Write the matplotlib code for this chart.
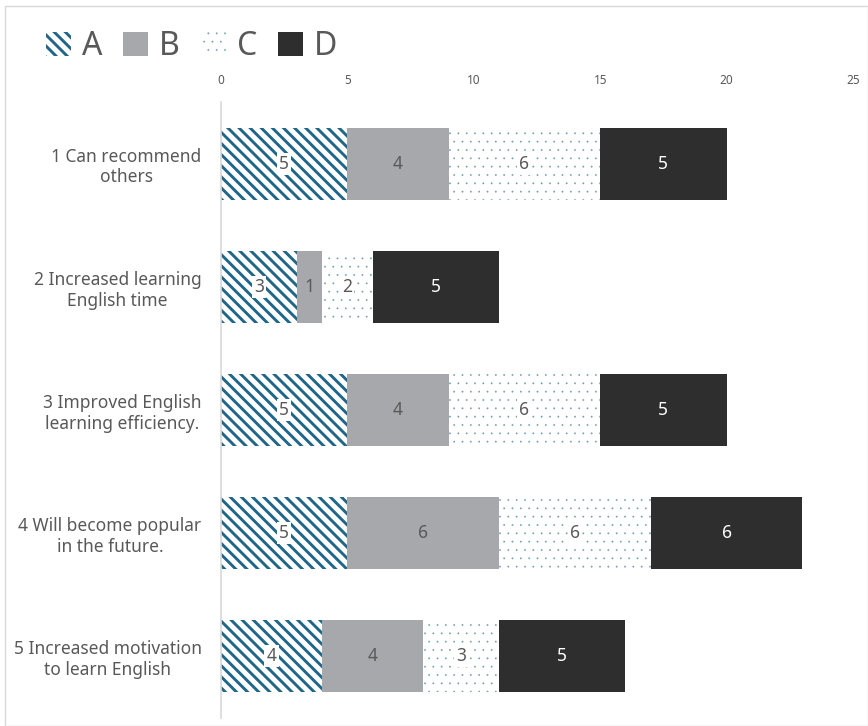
import matplotlib
matplotlib.use('Agg')
import matplotlib.pyplot as plt
from matplotlib.patches import Rectangle, Patch

plt.rcParams['font.family'] = ['Noto Sans', 'DejaVu Sans']

# data
categories = ['1 Can recommend\nothers',
              '2 Increased learning\nEnglish time',
              '3 Improved English\nlearning efficiency.',
              '4 Will become popular\nin the future.',
              '5 Increased motivation\nto learn English']
series_names = ['A', 'B', 'C', 'D']
A = [5, 3, 5, 5, 4]
B = [4, 1, 4, 6, 4]
C = [6, 2, 6, 6, 3]
D = [5, 5, 5, 6, 5]
xticks = [0, 5, 10, 15, 20, 25]

teal = '#1f6688'
gray_txt = '#595959'

fig = plt.figure(figsize=(8.68, 7.26), dpi=100)
ax = fig.add_axes([221 / 868, 8 / 726, 632 / 868, 616 / 726])

y = list(range(len(categories)))
h = 0.585

styles = [
    dict(facecolor='white', edgecolor=teal, hatch='\\\\\\', hlw=2.1),
    dict(facecolor='#a7a8ac', edgecolor='#a7a8ac', hatch=None, hlw=1.0),
    dict(facecolor='white', edgecolor='#6b9bb5', hatch='..', hlw=0.1),
    dict(facecolor='#2e2e2e', edgecolor='#2e2e2e', hatch=None, hlw=1.0),
]
txt_colors = [gray_txt, gray_txt, gray_txt, 'white']
boxed = [True, False, True, False]

left = [0] * len(categories)
handles = []
for vals, st, tc, bx, name in zip([A, B, C, D], styles, txt_colors, boxed, series_names):
    plt.rcParams['hatch.linewidth'] = st['hlw']
    ax.barh(y, vals, left=left, height=h, color=st['facecolor'],
            edgecolor=st['edgecolor'], hatch=st['hatch'], linewidth=0)
    for yi, v, l in zip(y, vals, left):
        kw = {}
        if bx:
            kw['bbox'] = dict(facecolor='white', edgecolor='none', pad=1.5)
        ax.text(l + v / 2, yi, str(v), ha='center', va='center',
                fontsize=12.5, color=tc, **kw)
    handles.append(Patch(facecolor=st['facecolor'], edgecolor=st['edgecolor'],
                         hatch=st['hatch'], linewidth=0, label=name))
    left = [a + b for a, b in zip(left, vals)]

ax.set_xlim(0, 25)
ax.set_ylim(len(categories) - 0.5, -0.5)
ax.set_xticks(xticks)
ax.xaxis.tick_top()
ax.tick_params(axis='x', length=0, labelsize=8.5, labelcolor=gray_txt, pad=11)
ax.set_yticks(y)
ax.set_yticklabels(categories, fontsize=12.5, color=gray_txt, ha='right',
                   multialignment='center')
ax.tick_params(axis='y', length=0, pad=14)
for s in ['top', 'right', 'bottom']:
    ax.spines[s].set_visible(False)
ax.spines['left'].set_color('#d9d9d9')
ax.spines['left'].set_linewidth(1.2)

leg = fig.legend(handles=handles, loc='upper left', bbox_to_anchor=(17 / 868, 1 - 1 / 726),
                 ncol=4, frameon=False, fontsize=23, handlelength=0.78, handleheight=0.78,
                 handletextpad=0.35, columnspacing=0.65, labelcolor=gray_txt)
for p, st in zip(leg.legend_handles, styles):
    if hasattr(p, 'set_hatch_linewidth'):
        p.set_hatch_linewidth(st['hlw'])
    else:
        p._hatch_linewidth = st['hlw']

# outer border
fig.patches.append(Rectangle((5 / 868, 0), 1 - 5 / 868, 1 - 6 / 726, transform=fig.transFigure,
                             fill=False, edgecolor='#d9d9d9', linewidth=1))

fig.savefig('out.png', dpi=100)
